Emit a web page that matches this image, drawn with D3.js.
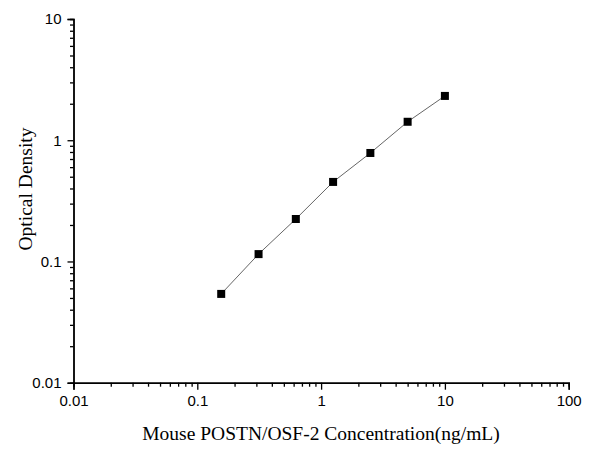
<!DOCTYPE html>
<html><head><meta charset="utf-8">
<script src="https://cdn.jsdelivr.net/npm/d3@7"></script>
<style>body{margin:0;background:#fff}svg{display:block}</style>
</head><body>
<svg id="c" width="600" height="454"></svg>
<script>
const concentrations = [0.156, 0.3125, 0.625, 1.25, 2.5, 5, 10];
const opticalDensity = [0.054, 0.115, 0.224, 0.453, 0.785, 1.42, 2.32];
const xTickLabels = ["0.01", "0.1", "1", "10", "100"];
const yTickLabels = ["0.01", "0.1", "1", "10"];
const xTitle = "Mouse POSTN/OSF-2 Concentration(ng/mL)";
const yTitle = "Optical Density";

const svg = d3.select("#c");
const L = 73.5, R = 568.7, T = 19, B = 382.7;
const x = d3.scaleLog().domain([0.01, 100]).range([L, R]);
const y = d3.scaleLog().domain([0.01, 10]).range([B, T]);

function minors(dom){
  const out=[];
  for(let e=Math.log10(dom[0]); e<Math.log10(dom[1]); e++){
    for(let k=2;k<=9;k++) out.push(k*Math.pow(10,e));
  }
  return out;
}
const xMaj = xTickLabels.map(Number), yMaj = yTickLabels.map(Number);

const font = "Arial, 'Liberation Sans', sans-serif";
const serif = "'Times New Roman','Liberation Serif',serif";
// bottom axis
const gx = svg.append("g").attr("transform",`translate(0,${B})`);
gx.call(d3.axisBottom(x).tickValues(minors(x.domain())).tickSize(4).tickFormat(""));
gx.append("g").call(d3.axisBottom(x).tickValues(xMaj).tickSize(7).tickPadding(6).tickFormat((d,i)=>xTickLabels[i]));
gx.selectAll("path.domain").attr("stroke","#000").attr("stroke-width",1.4);
gx.selectAll(".tick line").attr("stroke","#000").attr("stroke-width",1.3);
gx.selectAll("text").attr("font-family",font).attr("font-size",15).attr("fill","#000");
// left axis
const gy = svg.append("g").attr("transform",`translate(${L},0)`);
gy.call(d3.axisLeft(y).tickValues(minors(y.domain())).tickSize(3.5).tickFormat(""));
gy.append("g").call(d3.axisLeft(y).tickValues(yMaj).tickSize(6).tickPadding(6).tickFormat((d,i)=>yTickLabels[i]));
gy.selectAll("path.domain").attr("stroke","#000").attr("stroke-width",1.4);
gy.selectAll(".tick line").attr("stroke","#000").attr("stroke-width",1.3);
gy.selectAll("text").attr("font-family",font).attr("font-size",15).attr("fill","#000");
gx.select("g").select("path.domain").remove();
gy.select("g").select("path.domain").remove();

const pts = concentrations.map((c,i)=>[c, opticalDensity[i]]);
svg.append("path").datum(pts)
  .attr("d", d3.line().x(d=>x(d[0])).y(d=>y(d[1])))
  .attr("fill","none").attr("stroke","#666").attr("stroke-width",1);
svg.append("g").selectAll("rect").data(pts).join("rect")
  .attr("x",d=>x(d[0])-4).attr("y",d=>y(d[1])-4)
  .attr("width",8).attr("height",8).attr("fill","#000");

svg.append("text").attr("x",321).attr("y",440).attr("text-anchor","middle")
  .attr("font-family",serif).attr("font-size",19.5).text(xTitle);
svg.append("text").attr("transform",`translate(32,189) rotate(-90)`).attr("text-anchor","middle")
  .attr("font-family",serif).attr("font-size",19.5).text(yTitle);
</script>
</body></html>
